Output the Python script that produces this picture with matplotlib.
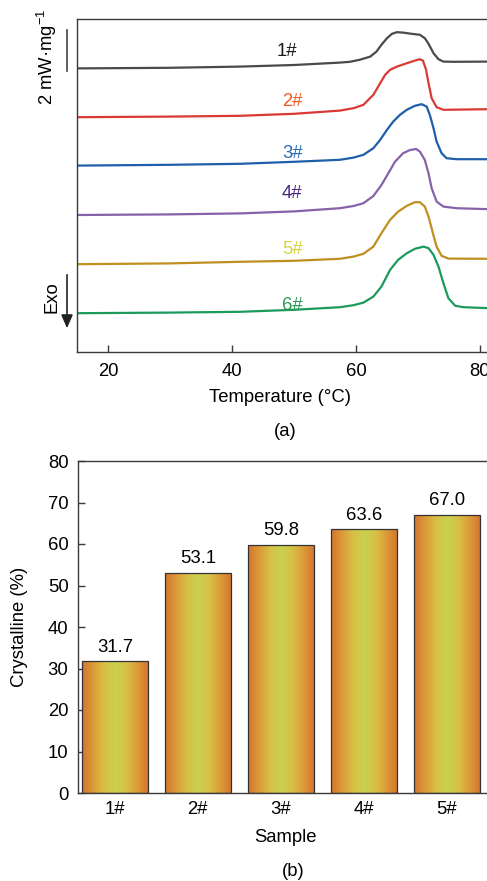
import numpy as np
import matplotlib
matplotlib.use('Agg')
import matplotlib.pyplot as plt
from matplotlib.colors import LinearSegmentedColormap

plt.rcParams['font.family'] = ['Liberation Sans', 'DejaVu Sans']
plt.rcParams['mathtext.fontset'] = 'custom'
plt.rcParams['mathtext.rm'] = 'Liberation Sans'
plt.rcParams['mathtext.it'] = 'Liberation Sans:italic'

# DSC curves (temperature in °C, heat flow in mW/mg relative to the start of each curve)
temp_1 = [15, 30, 41.3, 50, 57.4, 59.0, 60.6, 62.3, 63.3, 64.1, 65.0, 65.8, 66.6, 67.6, 68.7,
          70.3, 71.1, 71.7, 72.5, 73.3, 74.1, 75.7, 81.5]
heat_1 = [0, 0.03, 0.09, 0.17, 0.29, 0.33, 0.43, 0.59, 0.84, 1.18, 1.51, 1.73, 1.81, 1.79, 1.74,
          1.68, 1.51, 1.23, 0.76, 0.46, 0.34, 0.33, 0.34]

temp_2 = [15, 30, 41.3, 50, 57.4, 59.6, 61.2, 62.8, 63.9, 64.7, 65.5, 66.6, 68.2, 69.5, 70.3,
          70.8, 71.3, 71.7, 72.2, 73.0, 74.1, 81.5]
heat_2 = [0, 0.03, 0.07, 0.17, 0.33, 0.45, 0.62, 1.12, 1.70, 2.12, 2.37, 2.53, 2.70, 2.83, 2.90,
          2.83, 2.37, 1.70, 0.95, 0.50, 0.37, 0.40]

temp_3 = [15, 30, 41.3, 50, 57.4, 59.6, 61.2, 62.8, 63.9, 65.0, 66.0, 67.1, 68.2, 69.5, 70.6,
          71.4, 71.9, 72.5, 73.0, 73.8, 74.6, 76.2, 81.5]
heat_3 = [0, 0.04, 0.09, 0.19, 0.29, 0.40, 0.54, 0.87, 1.29, 1.79, 2.20, 2.54, 2.79, 2.99, 3.07,
          2.95, 2.54, 1.87, 1.20, 0.62, 0.37, 0.32, 0.32]

temp_4 = [15, 30, 41.3, 50, 57.4, 59.6, 61.2, 62.8, 64.1, 65.2, 66.3, 67.6, 68.7, 69.7, 70.3,
          71.1, 71.7, 72.2, 73.0, 74.1, 76.2, 81.5]
heat_4 = [0, 0.03, 0.08, 0.18, 0.34, 0.45, 0.59, 0.95, 1.50, 2.08, 2.67, 3.09, 3.25, 3.30, 3.17,
          2.75, 2.08, 1.34, 0.67, 0.42, 0.34, 0.29]

temp_5 = [15, 30, 41.3, 50, 57.4, 59.6, 61.2, 62.8, 64.1, 65.5, 66.8, 68.2, 69.5, 70.3, 71.1,
          71.7, 72.4, 73.0, 73.8, 74.9, 81.5]
heat_5 = [0, 0.04, 0.12, 0.17, 0.27, 0.38, 0.52, 0.88, 1.55, 2.22, 2.63, 2.92, 3.10, 3.10, 2.88,
          2.38, 1.55, 0.88, 0.42, 0.28, 0.27]

temp_6 = [15, 30, 41.3, 50, 57.4, 59.6, 61.2, 62.8, 64.1, 65.5, 66.8, 68.2, 69.5, 70.9, 71.7,
          72.5, 73.3, 74.1, 74.9, 76.0, 77.3, 81.5]
heat_6 = [0, 0.03, 0.07, 0.17, 0.30, 0.40, 0.53, 0.83, 1.33, 2.17, 2.67, 3.00, 3.22, 3.33, 3.25,
          2.92, 2.33, 1.50, 0.75, 0.37, 0.30, 0.25]

offsets = [14.18, 11.74, 9.32, 6.85, 4.39, 1.94]
curve_names = ['1#', '2#', '3#', '4#', '5#', '6#']
line_colors = ['#4a4a4a', '#d93a36', '#1f5ea8', '#8662a8', '#bf9020', '#1c9a5c']
label_colors = ['#1a1a1a', '#f05a24', '#2a6db5', '#4a2580', '#d6d63a', '#2a9a55']

# crystallinity
bar_samples = ['1#', '2#', '3#', '4#', '5#']
crystallinity = [31.7, 53.1, 59.8, 63.6, 67.0]

W, H = 487, 881
FS = 13.3
fig = plt.figure(figsize=(W / 100, H / 100), dpi=100)


def fx(x):
    return x / W


def fy(y):
    return 1 - y / H


spine_color = '#3a3a3a'

# ---- (a) DSC curves ----
ax1 = fig.add_axes([fx(77), fy(352), fx(489 - 77), 333 / H])
temps = [temp_1, temp_2, temp_3, temp_4, temp_5, temp_6]
heats = [heat_1, heat_2, heat_3, heat_4, heat_5, heat_6]
label_pos = [(48.9, 15.03), (49.7, 12.55), (49.7, 9.95), (49.7, 7.9), (49.7, 5.1), (49.7, 2.3)]
for t, h, off, name, lc, tc, pos in zip(temps, heats, offsets, curve_names,
                                         line_colors, label_colors, label_pos):
    ax1.plot(t, np.array(h) + off, color=lc, lw=1.6, solid_joinstyle='round')
    ax1.text(pos[0], pos[1], name, color=tc, fontsize=FS, ha='center', va='center')

ax1.set_xlim(15, 81.45)
ax1.set_ylim(0, 16.65)
ax1.set_xticks([20, 40, 60, 80])
ax1.set_yticks([])
ax1.tick_params(axis='x', direction='in', length=5, width=1, pad=8,
                labelsize=FS, color=spine_color)
for s in ax1.spines.values():
    s.set_color(spine_color)
    s.set_linewidth(1)

fig.text(fx(280), fy(397), 'Temperature (°C)', fontsize=FS, ha='center', va='center')
fig.text(fx(285), fy(432), '(a)', fontsize=FS, ha='center', va='center')

# scale bar and exo arrow
fig.add_artist(plt.Line2D([fx(67), fx(67)], [fy(30), fy(70.7)], color='#444444', lw=1.2))
fig.text(fx(47), fy(57), '2 mW·mg$^{-1}$', fontsize=FS, rotation=90, ha='center', va='center')
fig.add_artist(matplotlib.patches.FancyArrowPatch((fx(67), fy(272)), (fx(67), fy(331)),
                                                  transform=fig.transFigure,
                                                  arrowstyle='-|>,head_length=8,head_width=3.5',
                                                  color='#222222', lw=1.2))
fig.text(fx(52.5), fy(297.5), 'Exo', fontsize=FS, rotation=90, ha='center', va='center')

# ---- (b) crystallinity bars ----
ax2 = fig.add_axes([fx(77.5), fy(793), fx(489 - 77.5), 332 / H])
x = np.arange(len(bar_samples))
bars = ax2.bar(x, crystallinity, width=0.8, facecolor='none',
               edgecolor='#333333', lw=0.9, zorder=3)

cmap = LinearSegmentedColormap.from_list(
    'bar', ['#d4742e', '#dc9a38', '#d8c045', '#c9d152', '#d8c045', '#dc9a38', '#d4742e'])
gradient = np.linspace(0, 1, 256).reshape(1, -1)
for b in bars:
    x0, w, hgt = b.get_x(), b.get_width(), b.get_height()
    im = ax2.imshow(gradient, cmap=cmap, extent=[x0, x0 + w, 0, hgt],
                    aspect='auto', zorder=2, interpolation='bilinear')
    im.set_clip_path(b)

for xi, v in zip(x, crystallinity):
    ax2.annotate(f'{v:.1f}', (xi, v), xytext=(0, 4), textcoords='offset points',
                 ha='center', va='bottom', fontsize=FS)

ax2.set_xlim(-0.45, 4.51)
ax2.set_ylim(0, 80)
ax2.set_xticks(x)
ax2.set_xticklabels(bar_samples)
ax2.set_yticks(range(0, 81, 10))
ax2.tick_params(axis='y', direction='in', length=5, width=1, pad=6.5,
                labelsize=FS, color=spine_color)
ax2.tick_params(axis='x', length=0, pad=6, labelsize=FS)
for s in ax2.spines.values():
    s.set_color(spine_color)
    s.set_linewidth(1)

fig.text(fx(20), fy(627), 'Crystalline (%)', fontsize=FS, rotation=90, ha='center', va='center')
fig.text(fx(285), fy(838), 'Sample', fontsize=FS, ha='center', va='center')
fig.text(fx(293), fy(872), '(b)', fontsize=FS, ha='center', va='center')

fig.savefig('out.png', dpi=100)
